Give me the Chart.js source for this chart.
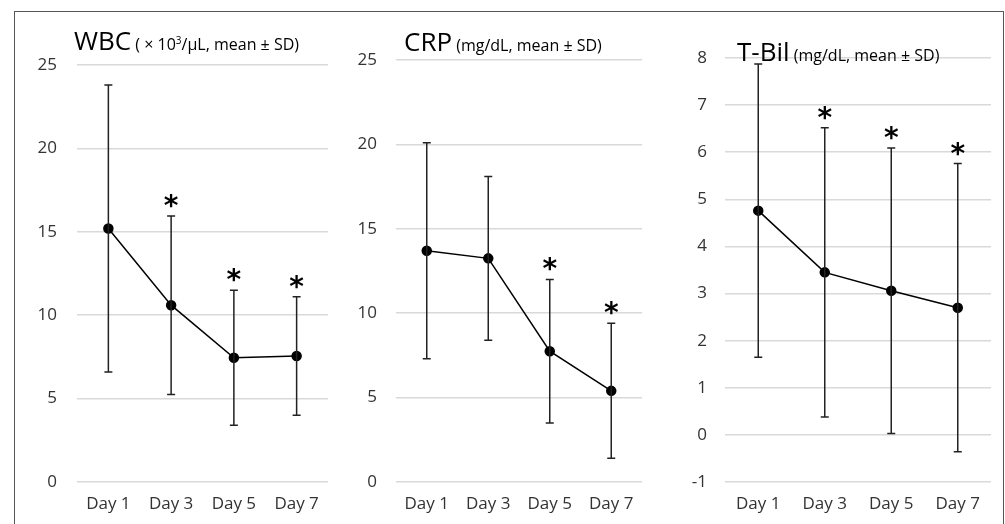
<!DOCTYPE html>
<html>
<head>
<meta charset="utf-8">
<script src="https://cdn.jsdelivr.net/npm/chart.js@4"></script>
<style>
  body { margin: 0; background: #fff; width: 1005px; height: 524px; overflow: hidden; position: relative; font-family: "Open Sans", sans-serif; }
  .frame { position: absolute; left: 14px; top: 11px; width: 990px; height: 530px; border: 1px solid #555; box-sizing: border-box; }
  .panel { position: absolute; top: 12px; height: 512px; }
  .title { position: absolute; white-space: nowrap; color: #000; line-height: 1; }
  .title b { font-weight: normal; font-size: 26px; }
  .title span { font-size: 16px; }
</style>
</head>
<body>
<div class="frame"></div>
<div class="panel" style="left:20px;width:315px"><canvas id="wbc"></canvas></div>
<div class="panel" style="left:335px;width:330px"><canvas id="crp"></canvas></div>
<div class="panel" style="left:665px;width:335px"><canvas id="tbil"></canvas></div>
<div class="title" style="left:74px;top:27px"><b>WBC</b> <span>( × 10<sup style="font-size:10px">3</sup>/μL, mean ± SD)</span></div>
<div class="title" style="left:404px;top:28px"><b>CRP</b> <span>(mg/dL, mean ± SD)</span></div>
<div class="title" style="left:737px;top:38px"><b>T-Bil</b> <span>(mg/dL, mean ± SD)</span></div>
<script>
const days = ["Day 1", "Day 3", "Day 5", "Day 7"];

const wbcMean = [15.2, 10.6, 7.45, 7.55];
const wbcSD = [8.6, 5.35, 4.05, 3.55];
const wbcSig = [false, true, true, true];

const crpMean = [13.7, 13.25, 7.75, 5.4];
const crpSD = [6.4, 4.85, 4.25, 4.0];
const crpSig = [false, false, true, true];

const tbilMean = [4.76, 3.45, 3.06, 2.70];
const tbilSD = [3.11, 3.07, 3.03, 3.06];
const tbilSig = [false, true, true, true];

// error bars + asterisks
const errorBars = {
    id: "errorBars",
    afterDatasetsDraw(chart, args, opts) {
        const ctx = chart.ctx;
        const y = chart.scales.y;
        const meta = chart.getDatasetMeta(0);
        ctx.save();
        ctx.strokeStyle = "#222";
        ctx.lineWidth = 1.5;
        meta.data.forEach((pt, i) => {
            const hi = y.getPixelForValue(opts.mean[i] + opts.sd[i]);
            const lo = y.getPixelForValue(opts.mean[i] - opts.sd[i]);
            ctx.beginPath();
            ctx.moveTo(pt.x, hi); ctx.lineTo(pt.x, lo);
            ctx.moveTo(pt.x - 4, hi); ctx.lineTo(pt.x + 4, hi);
            ctx.moveTo(pt.x - 4, lo); ctx.lineTo(pt.x + 4, lo);
            ctx.stroke();
            if (opts.sig[i]) {
                ctx.fillStyle = "#000";
                ctx.font = "bold 28px 'DejaVu Sans'";
                ctx.textAlign = "center";
                ctx.textBaseline = "alphabetic";
                ctx.fillText("*", pt.x, hi - 1);
            }
        });
        ctx.restore();
    }
};

function makeChart(id, mean, sd, sig, min, max, step, pad, yWidth, tickPad) {
    new Chart(document.getElementById(id), {
        type: "line",
        data: {
            labels: days,
            datasets: [{
                data: mean,
                borderColor: "#000",
                borderWidth: 1.5,
                pointRadius: 4.5,
                pointBackgroundColor: "#000",
                pointBorderColor: "#000",
                tension: 0
            }]
        },
        options: {
            responsive: true,
            maintainAspectRatio: false,
            animation: false,
            layout: { padding: pad },
            scales: {
                x: {
                    offset: true,
                    grid: { display: false },
                    border: { display: false },
                    ticks: { color: "#333", font: { family: "Open Sans", size: 17 }, padding: 4 },
                    afterFit: s => { s.height = 42; }
                },
                y: {
                    min, max,
                    grid: { color: "#d9d9d9", lineWidth: 1.5, drawTicks: false },
                    border: { display: false },
                    ticks: { stepSize: step, color: "#333", font: { family: "Open Sans", size: 17 }, padding: tickPad },
                    afterFit: s => { s.width = yWidth; }
                }
            },
            plugins: {
                legend: { display: false },
                tooltip: { enabled: false },
                errorBars: { mean, sd, sig }
            }
        },
        plugins: [errorBars]
    });
}

makeChart("wbc", wbcMean, wbcSD, wbcSig, 0, 25, 5, { top: 53, right: 7, bottom: 0, left: 0 }, 57, 20);
makeChart("crp", crpMean, crpSD, crpSig, 0, 25, 5, { top: 48, right: 23, bottom: 0, left: 0 }, 61, 19);
makeChart("tbil", tbilMean, tbilSD, tbilSig, -1, 8, 1, { top: 46, right: 9, bottom: 0, left: 0 }, 60, 18);
</script>
</body>
</html>
